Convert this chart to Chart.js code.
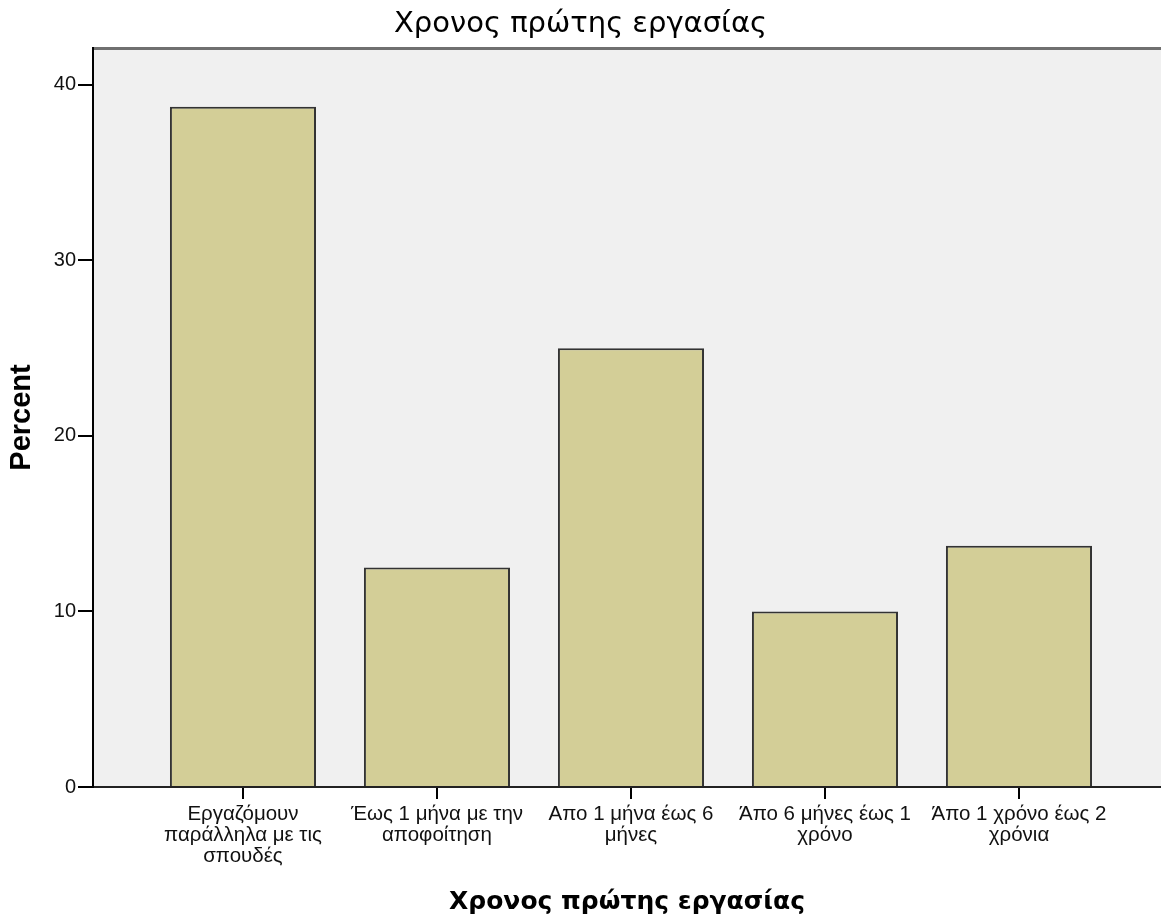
<!DOCTYPE html>
<html>
<head>
<meta charset="utf-8">
<script src="https://cdn.jsdelivr.net/npm/chart.js@4"></script>
<style>
    html, body { margin: 0; padding: 0; background: #fff; overflow: hidden; }
    #wrap { width: 1161px; height: 916px; }
</style>
</head>
<body>
<div id="wrap"><canvas id="chart"></canvas></div>
<script>
// Chart data (percent of respondents)
const categories = [
    'Εργαζόμουν παράλληλα με τις σπουδές',
    'Έως 1 μήνα με την αποφοίτηση',
    'Απο 1 μήνα έως 6 μήνες',
    'Άπο 6 μήνες έως 1 χρόνο',
    'Άπο 1 χρόνο έως 2 χρόνια'
];
const tickLabels = [
    ['Εργαζόμουν', 'παράλληλα με τις', 'σπουδές'],
    ['Έως 1 μήνα με την', 'αποφοίτηση'],
    ['Απο 1 μήνα έως 6', 'μήνες'],
    ['Άπο 6 μήνες έως 1', 'χρόνο'],
    ['Άπο 1 χρόνο έως 2', 'χρόνια']
];
const percentValues = [38.75, 12.5, 25, 10, 13.75];
const yTicks = [0, 10, 20, 30, 40];

// grey plot background and top frame line, like SPSS output
const plotFrame = {
    id: 'plotFrame',
    beforeDraw(chart) {
        const { ctx, chartArea } = chart;
        ctx.save();
        ctx.fillStyle = '#f0f0f0';
        ctx.fillRect(chartArea.left, chartArea.top, chartArea.right - chartArea.left, chartArea.bottom - chartArea.top);
        ctx.strokeStyle = '#707070';
        ctx.lineWidth = 3;
        ctx.beginPath();
        ctx.moveTo(chartArea.left, chartArea.top + 0.5);
        ctx.lineTo(chartArea.right, chartArea.top + 0.5);
        ctx.stroke();
        ctx.restore();
    }
};

function createChart() {
    const ctx = document.getElementById('chart').getContext('2d');
    new Chart(ctx, {
        type: 'bar',
        data: {
            datasets: [{
                label: 'Percent',
                data: percentValues.map((v, i) => ({ x: i, y: v })),
                backgroundColor: '#d3ce97',
                borderColor: '#333333',
                borderWidth: 2,
                categoryPercentage: 1,
                barPercentage: 0.753
            }]
        },
        options: {
            responsive: true,
            maintainAspectRatio: false,
            animation: false,
            layout: {
                padding: { left: 0, right: 0, top: 0, bottom: 0 }
            },
            plugins: {
                legend: { display: false },
                tooltip: { enabled: false },
                title: {
                    display: true,
                    text: 'Χρονος πρώτης εργασίας',
                    color: '#000',
                    font: { family: 'DejaVu Sans', size: 29, weight: 'normal' },
                    padding: { top: 6.8, bottom: 6.4 }
                }
            },
            scales: {
                x: {
                    type: 'linear',
                    offset: false,
                    min: -0.773,
                    max: 4.732,
                    afterFit(scale) { scale.height = 129; },
                    afterBuildTicks(scale) {
                        scale.ticks = categories.map((c, i) => ({ value: i }));
                    },
                    ticks: {
                        autoSkip: false,
                        maxRotation: 0,
                        padding: 5,
                        color: '#111',
                        font: { family: 'Liberation Sans', size: 20.5, lineHeight: 1.03 },
                        callback: (value) => tickLabels[value]
                    },
                    grid: {
                        offset: false,
                        drawOnChartArea: false,
                        drawTicks: true,
                        tickLength: 12,
                        color: '#000',
                        lineWidth: 2
                    },
                    border: { display: true, color: '#222', width: 2 },
                    title: {
                        display: true,
                        text: 'Χρονος πρώτης εργασίας',
                        color: '#000',
                        font: { family: 'DejaVu Sans', size: 25, weight: 'bold', lineHeight: 1.1 },
                        padding: { top: 0, bottom: 0 }
                    }
                },
                y: {
                    min: 0,
                    max: 42.1,
                    afterFit(scale) { scale.width = 93; },
                    afterBuildTicks(scale) {
                        scale.ticks = yTicks.map(v => ({ value: v }));
                    },
                    ticks: {
                        padding: 2,
                        color: '#111',
                        font: { family: 'Liberation Sans', size: 20 }
                    },
                    grid: {
                        drawOnChartArea: false,
                        drawTicks: true,
                        tickLength: 15,
                        color: '#000',
                        lineWidth: 2
                    },
                    border: { display: true, color: '#000', width: 2 },
                    title: {
                        display: true,
                        text: 'Percent',
                        color: '#000',
                        font: { family: 'Liberation Sans', size: 29, weight: 'bold' },
                        padding: { top: 5, bottom: 5 }
                    }
                }
            }
        },
        plugins: [plotFrame]
    });
}

document.addEventListener('DOMContentLoaded', createChart);
</script>
</body>
</html>
